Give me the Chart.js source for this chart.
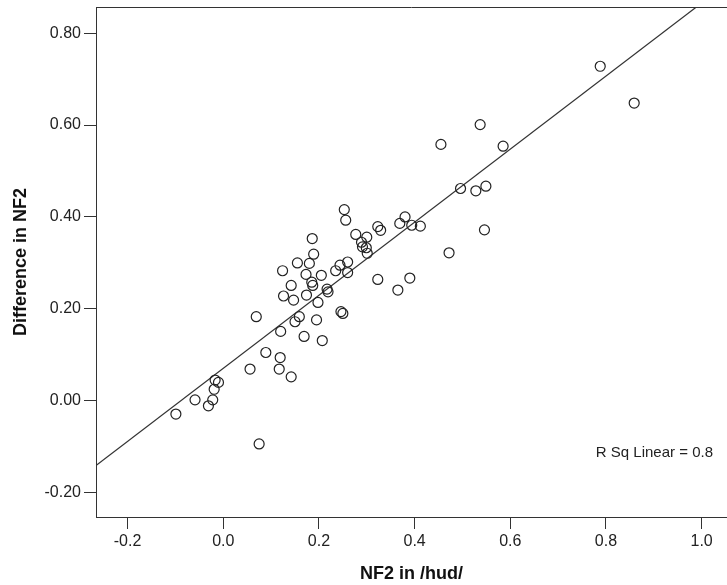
<!DOCTYPE html>
<html>
<head>
<meta charset="utf-8">
<script src="https://cdn.jsdelivr.net/npm/chart.js@4"></script>
<style>
  body { margin: 0; background: #fff; }
  canvas { display: block; }
</style>
</head>
<body>
<canvas id="myChart" width="727" height="585"></canvas>
<script>
// data
var nf2Hud = [-0.099, -0.059, -0.031, -0.022, -0.019, -0.017, -0.010, 0.056, 0.069, 0.075,
    0.089, 0.117, 0.119, 0.120, 0.142, 0.150, 0.159, 0.169, 0.195, 0.207,
    0.246, 0.250, 0.126, 0.147, 0.174, 0.198, 0.142, 0.173, 0.185, 0.187,
    0.205, 0.217, 0.219, 0.124, 0.155, 0.180, 0.186, 0.189, 0.235, 0.244,
    0.260, 0.260, 0.253, 0.256, 0.277, 0.289, 0.291, 0.299, 0.300, 0.301,
    0.323, 0.329, 0.323, 0.365, 0.369, 0.380, 0.394, 0.412, 0.390, 0.455,
    0.472, 0.496, 0.528, 0.549, 0.546, 0.537, 0.585, 0.788, 0.859];
var diffNf2 = [-0.029, 0.002, -0.011, 0.002, 0.025, 0.045, 0.040, 0.069, 0.183, -0.094,
    0.105, 0.069, 0.094, 0.151, 0.052, 0.172, 0.183, 0.140, 0.176, 0.131,
    0.194, 0.190, 0.228, 0.219, 0.230, 0.214, 0.251, 0.275, 0.258, 0.251,
    0.273, 0.243, 0.237, 0.283, 0.300, 0.299, 0.353, 0.319, 0.283, 0.295,
    0.302, 0.279, 0.416, 0.393, 0.362, 0.345, 0.335, 0.333, 0.356, 0.321,
    0.379, 0.371, 0.264, 0.241, 0.386, 0.400, 0.382, 0.380, 0.267, 0.558,
    0.322, 0.462, 0.457, 0.467, 0.372, 0.601, 0.554, 0.728, 0.648];

// fit line ends (left edge and top edge of the plot)
var fitX = [-0.266, 0.989];
var fitY = [-0.141, 0.857];

var xTicks = [-0.2, 0.0, 0.2, 0.4, 0.6, 0.8, 1.0];
var yTicks = [-0.2, 0.0, 0.2, 0.4, 0.6, 0.8];
var rsqLabel = 'R Sq Linear = 0.8';

var ink = '#333';
var font = "'Liberation Sans', Arial, sans-serif";

var points = nf2Hud.map(function(x, i){ return {x: x, y: diffNf2[i]}; });
var fitPoints = fitX.map(function(x, i){ return {x: x, y: fitY[i]}; });

// top border + R sq text
var extras = {
    id: 'extras',
    afterDraw: function(chart){
        var c = chart.ctx, a = chart.chartArea;
        c.save();
        c.strokeStyle = ink;
        c.lineWidth = 1;
        c.beginPath();
        c.moveTo(a.left, a.top + 0.5);
        c.lineTo(a.right, a.top + 0.5);
        c.stroke();
        c.fillStyle = '#222';
        c.font = '15px ' + font;
        c.textAlign = 'right';
        c.textBaseline = 'alphabetic';
        c.fillText(rsqLabel, 713, 457);
        c.restore();
    }
};

var ctx = document.getElementById('myChart').getContext('2d');
var chart = new Chart(ctx, {
    type: 'scatter',
    data: {
        datasets: [
            {
                data: points,
                pointStyle: 'circle',
                pointRadius: 5,
                pointBorderWidth: 1.2,
                borderColor: '#222',
                backgroundColor: 'rgba(0,0,0,0)',
                showLine: false
            },
            {
                data: fitPoints,
                showLine: true,
                pointRadius: 0,
                borderColor: ink,
                borderWidth: 1.2,
                fill: false
            }
        ]
    },
    plugins: [extras],
    options: {
        responsive: false,
        animation: false,
        layout: { autoPadding: false, padding: { top: 7, right: 0, left: 0, bottom: 0 } },
        plugins: {
            legend: { display: false },
            tooltip: { enabled: false }
        },
        scales: {
            x: {
                type: 'linear',
                min: -0.266,
                max: 1.053,
                afterBuildTicks: function(scale){
                    scale.ticks = xTicks.map(function(v){ return {value: v}; });
                },
                afterFit: function(scale){
                    scale.height = 68;
                    scale.paddingLeft = 0;
                    scale.paddingRight = 0;
                },
                ticks: {
                    color: '#222',
                    font: { family: font, size: 16 },
                    padding: 3,
                    callback: function(v){ return Number(v).toFixed(1); }
                },
                grid: { drawOnChartArea: false, drawTicks: true, tickLength: 12, color: ink },
                border: { display: true, color: ink, width: 1 },
                title: {
                    display: true,
                    text: 'NF2 in /hud/',
                    color: '#111',
                    font: { family: font, size: 18, weight: 'bold' },
                    padding: { top: 2, bottom: 0 }
                }
            },
            y: {
                type: 'linear',
                min: -0.253,
                max: 0.857,
                afterBuildTicks: function(scale){
                    scale.ticks = yTicks.map(function(v){ return {value: v}; });
                },
                afterFit: function(scale){
                    scale.width = 96;
                    scale.paddingTop = 0;
                    scale.paddingBottom = 0;
                },
                ticks: {
                    color: '#222',
                    font: { family: font, size: 16 },
                    padding: 3,
                    callback: function(v){ return Number(v).toFixed(2); }
                },
                grid: { drawOnChartArea: false, drawTicks: true, tickLength: 12, color: ink },
                border: { display: true, color: ink, width: 1 },
                title: {
                    display: true,
                    text: 'Difference in NF2',
                    color: '#111',
                    font: { family: font, size: 18, weight: 'bold' },
                    padding: { top: 10, bottom: 4 }
                }
            }
        }
    }
});
</script>
</body>
</html>
